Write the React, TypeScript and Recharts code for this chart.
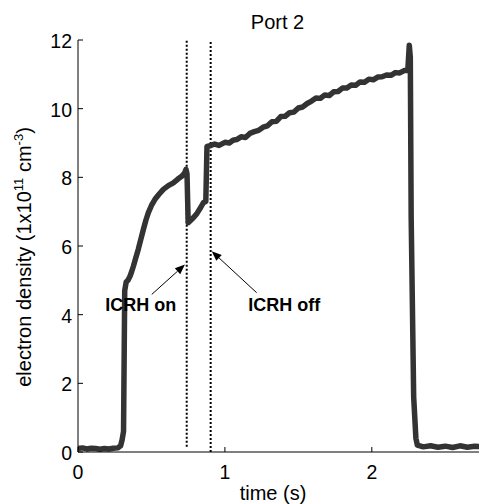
import React from 'react';
import { LineChart, Line, XAxis, YAxis, ReferenceLine, Customized } from 'recharts';

const timeS = [
  0, 0.03, 0.06, 0.09, 0.12, 0.15, 0.18, 0.21, 0.24, 0.27, 0.29, 0.3, 0.31,
  0.318, 0.328, 0.34, 0.354, 0.365, 0.377, 0.393, 0.41, 0.428, 0.445, 0.462, 0.479, 0.5,
  0.524, 0.55, 0.581, 0.615, 0.649, 0.68, 0.706, 0.725, 0.735, 0.742, 0.75, 0.768, 0.785,
  0.81, 0.835, 0.853, 0.87, 0.878, 0.9, 0.93, 0.96, 1.0, 1.03, 1.055, 1.08, 1.11, 1.14,
  1.17, 1.2, 1.23, 1.26, 1.29, 1.32, 1.35, 1.38, 1.41, 1.44, 1.47, 1.5, 1.53, 1.56, 1.59,
  1.62, 1.65, 1.68, 1.71, 1.74, 1.77, 1.8, 1.83, 1.86, 1.89, 1.92, 1.95, 1.98, 2.01, 2.04,
  2.07, 2.1, 2.13, 2.16, 2.19, 2.22, 2.245, 2.255, 2.262, 2.268, 2.285, 2.3, 2.31, 2.35,
  2.4, 2.45, 2.5, 2.55, 2.6, 2.65, 2.7, 2.75,
];
const density = [
  0.1, 0.12, 0.09, 0.11, 0.1, 0.08, 0.1, 0.09, 0.11, 0.12, 0.18, 0.35, 0.6,
  4.7, 4.95, 5.0, 5.12, 5.25, 5.41, 5.65, 5.9, 6.2, 6.48, 6.75, 6.97, 7.18,
  7.36, 7.5, 7.65, 7.76, 7.84, 7.95, 8.03, 8.12, 8.23, 8.1, 6.68, 6.75, 6.82,
  6.95, 7.12, 7.26, 7.3, 8.9, 8.92, 8.97, 8.93, 9.02, 9.0, 9.08, 9.1, 9.18, 9.16,
  9.28, 9.33, 9.37, 9.46, 9.5, 9.62, 9.63, 9.77, 9.78, 9.88, 9.9, 10.02, 10.05, 10.15, 10.22,
  10.31, 10.3, 10.4, 10.38, 10.49, 10.5, 10.6, 10.6, 10.69, 10.68, 10.78, 10.77, 10.86, 10.84, 10.92,
  10.93, 10.98, 10.97, 11.05, 11.04, 11.11, 11.12, 11.85, 11.5, 6.8, 1.6, 0.4, 0.2, 0.15,
  0.18, 0.14, 0.17, 0.13, 0.18, 0.14, 0.17, 0.15,
];

const xTicks = [0, 1, 2];
const yTicks = [0, 2, 4, 6, 8, 10, 12];
const xDomain: [number, number] = [0, 2.75];
const yDomain: [number, number] = [0, 12];

const icrhOnTime = 0.74;
const icrhOffTime = 0.903;

const arrowOn = { label: 'ICRH on', from: { x: 0.502, y: 4.59 }, to: { x: 0.728, y: 5.46 } };
const arrowOff = { label: 'ICRH off', from: { x: 1.216, y: 4.64 }, to: { x: 0.91, y: 5.85 } };

const data = timeS.map((t, i) => ({ t, n: density[i] }));

const FONT = '"Liberation Sans", Arial, Helvetica, sans-serif';

const BottomTick = (props: any) => {
  const { x, y, payload } = props;
  return (
    <g>
      <line x1={x} x2={x} y1={y} y2={y - 5} stroke="#000" strokeWidth={1} />
      <text x={x} y={y + 27} textAnchor="middle" fontFamily={FONT} fontSize={19.5} fill="#000">
        {payload.value}
      </text>
    </g>
  );
};
const TopTick = (props: any) => {
  const { x, y } = props;
  return <line x1={x} x2={x} y1={y} y2={y + 5} stroke="#000" strokeWidth={1} />;
};
const LeftTick = (props: any) => {
  const { x, y, payload } = props;
  return (
    <g>
      <line x1={x} x2={x + 5} y1={y} y2={y} stroke="#000" strokeWidth={1} />
      <text x={x - 6} y={y + 8} textAnchor="end" fontFamily={FONT} fontSize={19.5} fill="#000">
        {payload.value}
      </text>
    </g>
  );
};
const RightTick = (props: any) => {
  const { x, y } = props;
  return <line x1={x} x2={x - 6} y1={y} y2={y} stroke="#000" strokeWidth={1} />;
};

const makeArrow = (label: string, dx: number, dy: number) => (p: any) => {
  const { x1, y1, x2, y2 } = p;
  const ang = Math.atan2(y2 - y1, x2 - x1);
  const L = 10;
  const W = 4;
  const bx = x2 - L * Math.cos(ang);
  const by = y2 - L * Math.sin(ang);
  const px = -Math.sin(ang) * W;
  const py = Math.cos(ang) * W;
  return (
    <g>
      <line x1={x1} y1={y1} x2={bx} y2={by} stroke="#000" strokeWidth={1} />
      <polygon points={`${x2},${y2} ${bx + px},${by + py} ${bx - px},${by - py}`} fill="#000" />
      <text x={x1 + dx} y={y1 + dy} textAnchor="middle" fontFamily={FONT} fontWeight="bold" fontSize={18} fill="#000">
        {label}
      </text>
    </g>
  );
};

const Texts = () => (
  <g>
    <text x={277.5} y={28.5} textAnchor="middle" fontFamily={FONT} fontSize={20} fill="#000">Port 2</text>
    <text x={273} y={500} textAnchor="middle" fontFamily={FONT} fontSize={20} fill="#000">time (s)</text>
    <text x={31} y={257} transform="rotate(-90, 31, 257)" textAnchor="middle" fontFamily={FONT} fontSize={20} fill="#000">
      <tspan>electron density (1x10</tspan>
      <tspan dy={-8} fontSize={13}>11</tspan>
      <tspan dy={8}> cm</tspan>
      <tspan dy={-8} fontSize={13}>-3</tspan>
      <tspan dy={8}>)</tspan>
    </text>
  </g>
);

export default function App() {
  return (
    <div style={{ position: 'absolute', left: 0, top: 0, width: 479, height: 504, overflow: 'hidden', background: '#fff' }}>
      <LineChart width={490} height={504} data={data} margin={{ top: 40, right: 8, bottom: 0, left: 0 }}>
        <XAxis
          dataKey="t"
          type="number"
          domain={xDomain}
          ticks={xTicks}
          allowDataOverflow
          height={52}
          tickSize={0}
          tickMargin={0}
          tickLine={false}
          axisLine={{ stroke: '#000', strokeWidth: 1 }}
          tick={BottomTick}
        />
        <XAxis
          xAxisId="top"
          orientation="top"
          type="number"
          domain={xDomain}
          ticks={xTicks}
          allowDataOverflow
          height={0}
          tickSize={0}
          tickMargin={0}
          tickLine={false}
          axisLine={{ stroke: '#000', strokeWidth: 1 }}
          tick={TopTick}
        />
        <YAxis
          type="number"
          domain={yDomain}
          ticks={yTicks}
          allowDataOverflow
          width={78}
          tickSize={0}
          tickMargin={0}
          tickLine={false}
          axisLine={{ stroke: '#000', strokeWidth: 1 }}
          tick={LeftTick}
        />
        <YAxis
          yAxisId="right"
          orientation="right"
          type="number"
          domain={yDomain}
          ticks={yTicks}
          allowDataOverflow
          width={0}
          tickSize={0}
          tickMargin={0}
          tickLine={false}
          axisLine={{ stroke: '#000', strokeWidth: 1 }}
          tick={RightTick}
        />
        <ReferenceLine
          segment={[{ x: icrhOnTime, y: 0.15 }, { x: icrhOnTime, y: 12 }]}
          stroke="#000"
          strokeWidth={2}
          strokeDasharray="2 2"
        />
        <ReferenceLine x={icrhOffTime} stroke="#000" strokeWidth={2} strokeDasharray="2 2" />
        <Line
          dataKey="n"
          type="linear"
          stroke="#333333"
          strokeWidth={5.5}
          strokeLinejoin="round"
          dot={false}
          isAnimationActive={false}
        />
        <ReferenceLine segment={[arrowOn.from, arrowOn.to]} shape={makeArrow(arrowOn.label, -11, 17)} />
        <ReferenceLine segment={[arrowOff.from, arrowOff.to]} shape={makeArrow(arrowOff.label, 27.5, 18.4)} />
        <Customized component={Texts} />
      </LineChart>
    </div>
  );
}
